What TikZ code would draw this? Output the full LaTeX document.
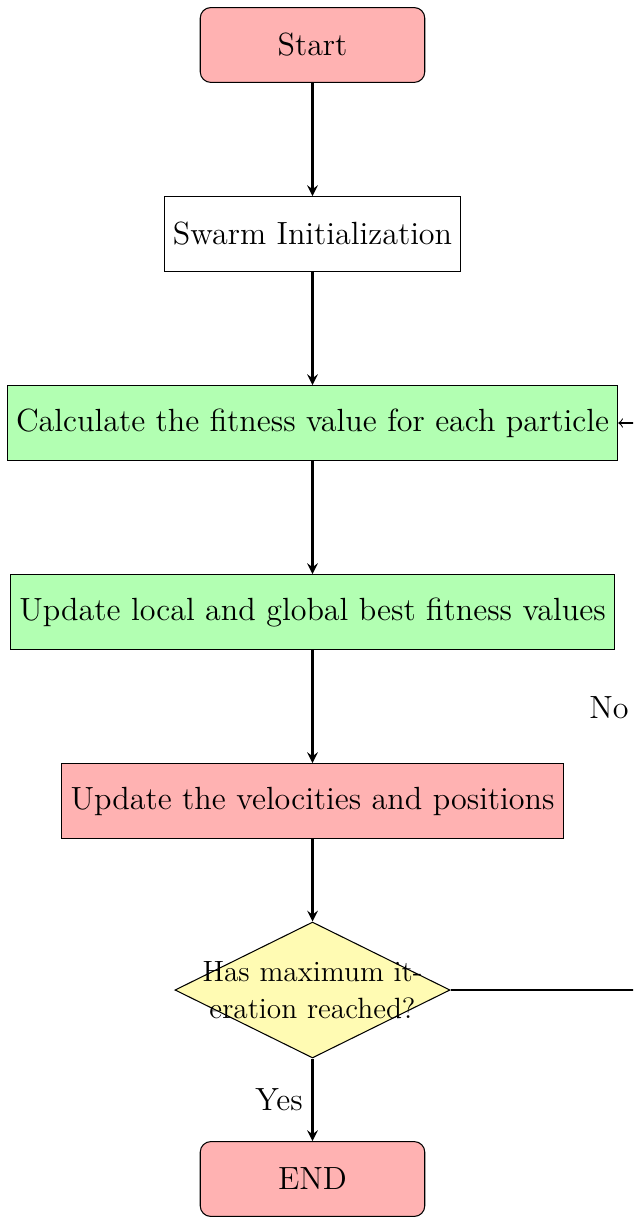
\documentclass[tikz,border=0pt]{standalone}
\usetikzlibrary{shapes.geometric,arrows}
\begin{document}
\begin{tikzpicture}[x=0.38023pt, y=-0.38023pt,
  bigfont/.style={font=\fontsize{12.2}{14.7}\selectfont},
  roundbox/.style={rectangle, rounded corners, draw, fill=red!30, minimum width=3cm, minimum height=1cm, bigfont},
  procbox/.style={rectangle, draw, minimum width=3cm, minimum height=1cm, bigfont},
  decbox/.style={diamond, draw, fill=yellow!30, minimum width=104.6pt, minimum height=51.7pt, inner sep=0pt},
  flow/.style={thick, -stealth},
  back/.style={->}
]
\path[use as bounding box, clip] (0,0) rectangle (633,1218);

\node[roundbox] (start) at (312.5,45) {Start};
\node[procbox, fill=white] (init) at (312.5,234) {Swarm Initialization};
\node[procbox, fill=green!30] (fit) at (312.5,423) {Calculate the fitness value for each particle};
\node[procbox, fill=green!30] (best) at (312.5,612) {Update local and global best fitness values};
\node[procbox, fill=red!30] (vel) at (312.5,801) {Update the velocities and positions};
\node[decbox] (dec) at (312.5,990) {};
\node[text width=3cm, align=center, inner sep=0pt, font=\fontsize{11.15}{13.8}\selectfont] (dectext) at (dec.center) {Has maximum it-\\eration reached?};
\node[roundbox] (end) at (312.5,1179) {END};

\draw[flow] (start) -- (init);
\draw[flow] (init) -- (fit);
\draw[flow] (fit) -- (best);
\draw[flow] (best) -- (vel);
\draw[flow] (vel) -- (dec);
\draw[flow] (dec) -- node[left, bigfont] (yes) {Yes} (end);

\coordinate (loop) at (660,990);
\draw[back] (dec.east) -- (loop) |- (fit.east);
\node[bigfont] (no) at (609,708) {No};
\end{tikzpicture}
\end{document}
